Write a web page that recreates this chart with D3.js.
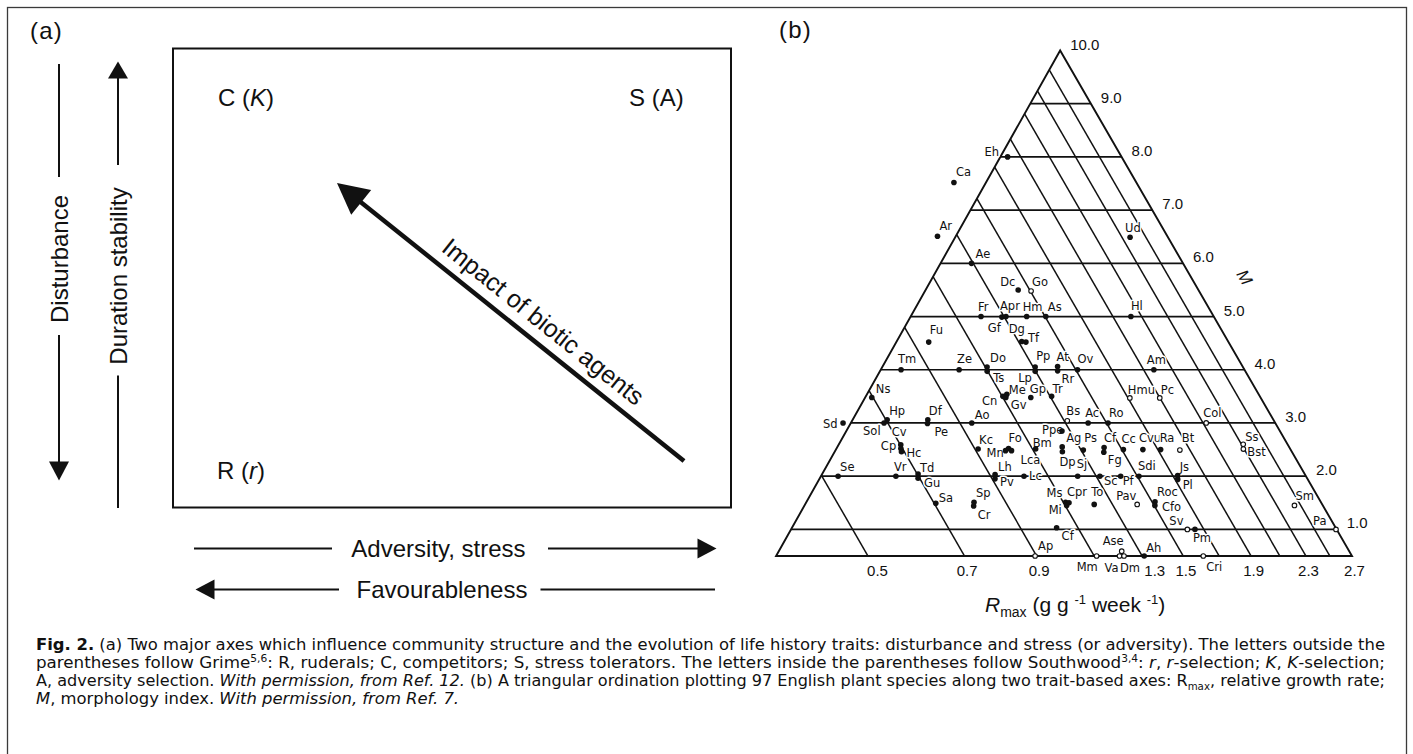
<!DOCTYPE html>
<html>
<head>
<meta charset="utf-8">
<script src="https://cdn.jsdelivr.net/npm/d3@7/dist/d3.min.js"></script>
<style>
  html, body { margin: 0; padding: 0; background: #ffffff; }
  svg { display: block; }
</style>
</head>
<body>
<svg id="fig" width="1413" height="754"></svg>
<script>
// ---------- panel (b): species codes, Rmax (g g-1 week-1) and morphology index M ----------
const codes = ["Eh","Ca","Ar","Ae","Ud","Dc","Go","Fr","Gf","Apr","Hm","As","Hl","Dg","Tf","Fu",
  "Tm","Ze","Do","Ts","Pp","Lp","At","Rr","Ov","Am","Hmu","Pc","Ns","Me","Cn","Gv","Gp","Tr",
  "Hp","Sol","Df","Pe","Ao","Sd","Bs","Ac","Ro","Col","Ppe","Cv","Cp","Hc","Kc","Fo","Mn","Lca",
  "Bm","Ag","Dp","Ps","Cf","Fg","Cc","Cvu","Ra","Bt","Ss","Bst","Se","Vr","Td","Gu","Lh","Pv",
  "Lc","Sj","Sc","Pf","Sdi","Js","Pl","Sa","Sp","Cr","Ms","Cpr","Mi","To","Pav","Roc","Cfo",
  "Sv","Pm","Sm","Pa","Cf","Ap","Mm","Ase","Va","Dm","Ah","Cri"];
const rmax = [1.815,1.430,1.212,1.292,2.366,1.441,1.504,1.200,1.289,1.309,1.407,1.504,2.023,1.315,1.333,0.950,
  0.816,0.999,1.107,1.098,1.309,1.298,1.417,1.405,1.509,1.969,1.711,1.899,0.697,1.123,1.103,1.112,1.213,1.307,
  0.703,0.691,0.810,0.803,0.938,0.599,1.314,1.407,1.508,2.123,1.264,0.701,0.696,0.693,0.910,1.013,0.998,1.019,
  1.112,1.225,1.214,1.310,1.416,1.401,1.508,1.614,1.717,1.834,2.314,2.293,0.529,0.647,0.702,0.696,0.917,0.909,
  1.011,1.219,1.317,1.416,1.509,1.729,1.716,0.704,0.806,0.799,1.109,1.121,1.106,1.220,1.417,1.516,1.504,
  1.605,1.648,2.446,2.694,1.021,0.895,1.109,1.222,1.201,1.220,1.309,1.608];
const mIndex = [8.00,7.52,6.51,6.00,6.49,5.50,5.48,5.00,4.99,5.00,5.00,5.00,5.00,4.53,4.52,4.52,
  4.00,4.00,4.05,3.97,4.05,3.97,4.06,3.98,4.00,4.00,3.47,3.47,3.48,3.54,3.50,3.48,3.48,3.50,
  3.06,3.00,3.06,2.99,3.00,3.00,3.04,3.00,3.00,3.00,2.85,2.59,2.52,2.46,2.51,2.52,2.48,2.48,
  2.51,2.55,2.46,2.49,2.54,2.45,2.50,2.50,2.50,2.49,2.60,2.51,2.00,2.00,2.04,1.96,2.03,1.95,
  2.00,2.00,2.00,2.00,2.00,2.01,1.94,1.49,1.51,1.44,1.51,1.50,1.45,1.47,1.47,1.52,1.45,
  1.00,1.00,1.45,1.00,1.03,0.50,0.50,0.59,0.50,0.50,0.50,0.50];
// species plotted with open symbols
const openCodes = ["Go","Hmu","Pc","Bs","Col","Bt","Ss","Bst","Pav","Sv","Sm","Pa","Ap","Mm","Ase","Va","Dm","Cri"];

// axis values
const rmaxTicks = [0.5, 0.7, 0.9, 1.3, 1.5, 1.9, 2.3, 2.7];
const rmaxGrid  = [0.5, 0.7, 0.9, 1.1, 1.3, 1.5, 1.7, 1.9, 2.1, 2.3, 2.5];
const mTicks    = [1, 2, 3, 4, 5, 6, 7, 8, 9, 10];

// ---------- panel (a): corner strategies ----------
const grime     = ["C", "S", "R"];
const southwood = ["K", "A", "r"];
const swItalic  = [true, false, true];

// ---------- layout (label placement, offsets in px from each dot) ----------
const labelShift = [[-23,-1],[2,-6],[2,-6],[4,-5],[-5,-5],[-18,-4],[1,-5],[-3,-6],[-14,15],[-6,-7],[-4,-6],[2,-6],[0,-7],[-13,-9],[2,0],[1,-8],
  [-3,-7],[-2,-7],[3,-5],[6,11],[1,-7],[-17,11],[-1,-6],[4,12],[0,-7],[-7,-6],[-2,-4],[1,-4],[4,-4],[2,0],[-21,9],[5,12],[-1,-4],[1,-3],
  [2,-5],[-21,12],[1,-5],[7,12],[3,-4],[-20,5],[-1,-6],[-3,-6],[1,-6],[-3,-6],[-20,3],[-9,-9],[-20,1],[5,5],[1,-5],[0,-7],[-19,6],[9,13],
  [-3,-2],[4,-5],[-3,14],[1,-8],[0,-5],[4,12],[-2,-7],[-4,-8],[-1,-8],[2,-8],[2,-3],[4,7],[2,-5],[-2,-5],[2,-2],[6,9],[3,-4],[5,7],
  [5,4],[-1,-8],[4,9],[2,9],[-1,-6],[2,-5],[5,10],[3,-1],[2,-5],[4,13],[-19,-5],[-2,-7],[-18,9],[-3,-8],[-21,-4],[2,-6],[7,6],
  [-18,-4],[-2,13],[1,-5],[-23,-4],[5,12],[3,-6],[-20,15],[-19,-6],[-15,16],[-4,16],[2,-4],[3,15]];
const tickNudge = {0.5: 7, 1.3: 10};

const INK = "#111111";
const SANS = "'Liberation Sans', Arial, Helvetica, sans-serif";
const LABEL_FONT = "'DejaVu Sans', Verdana, sans-serif";
const svg = d3.select("#fig");

// outer frame of the figure
svg.append("rect").attr("x", 7.5).attr("y", 7.5).attr("width", 1399).attr("height", 770)
  .attr("fill", "none").attr("stroke", "#3a3a3a").attr("stroke-width", 1.3);

// ---------- helpers ----------
function seg(g, x1, y1, x2, y2, w) {
  return g.append("line").attr("x1", x1).attr("y1", y1).attr("x2", x2).attr("y2", y2)
    .attr("stroke", INK).attr("stroke-width", w);
}
function arrow(g, x1, y1, x2, y2, len, half, w) {
  const dx = x2 - x1, dy = y2 - y1, L = Math.hypot(dx, dy), ux = dx / L, uy = dy / L;
  const bx = x2 - ux * len, by = y2 - uy * len;
  seg(g, x1, y1, bx + ux * 2, by + uy * 2, w);
  g.append("path")
    .attr("d", `M${x2},${y2}L${bx - uy * half},${by + ux * half}L${bx + uy * half},${by - ux * half}Z`)
    .attr("fill", INK);
}

// =================== panel (a) ===================
const A = svg.append("g").attr("font-family", SANS).attr("fill", INK);
A.append("text").attr("x", 30).attr("y", 39).attr("font-size", 24).attr("letter-spacing", 1.2).text("(a)");

const box = {x0: 173, y0: 48.5, x1: 731, y1: 507.5};
A.append("rect").attr("x", box.x0).attr("y", box.y0)
  .attr("width", box.x1 - box.x0).attr("height", box.y1 - box.y0)
  .attr("fill", "none").attr("stroke", INK).attr("stroke-width", 2);

const cornerPos = [[218, 106], [629, 106], [217, 479]];
grime.forEach((g, i) => {
  const t = A.append("text").attr("x", cornerPos[i][0]).attr("y", cornerPos[i][1]).attr("font-size", 24);
  t.append("tspan").text(g + " (");
  t.append("tspan").attr("font-style", swItalic[i] ? "italic" : "normal").text(southwood[i]);
  t.append("tspan").text(")");
});

// impact of biotic agents: long diagonal arrow towards C(K)
const tail = [684, 461], tip = [337, 183];
arrow(A, tail[0], tail[1], tip[0], tip[1], 31, 16, 4.5);
{
  const ang = Math.atan2(tail[1] - tip[1], tail[0] - tip[0]);
  const ux = Math.cos(ang), uy = Math.sin(ang);
  const L = Math.hypot(tail[0] - tip[0], tail[1] - tip[1]);
  const along = 0.557 * L, off = 12;
  const cx = tip[0] + ux * along + uy * off, cy = tip[1] + uy * along - ux * off;
  A.append("text").attr("transform", `translate(${cx},${cy}) rotate(${ang * 180 / Math.PI})`)
    .attr("text-anchor", "middle").attr("font-size", 25).text("Impact of biotic agents");
}

// disturbance (down) and duration stability (up)
seg(A, 59, 64, 59, 177, 2);
A.append("text").attr("transform", "translate(59,259) rotate(-90)").attr("text-anchor", "middle")
  .attr("dominant-baseline", "central").attr("font-size", 24).text("Disturbance");
arrow(A, 59, 335, 59, 480.5, 19, 10, 2);

arrow(A, 118, 165, 118, 61.5, 17, 10, 2);
A.append("text").attr("transform", "translate(118,276) rotate(-90)").attr("text-anchor", "middle")
  .attr("dominant-baseline", "central").attr("font-size", 24).text("Duration stability");
seg(A, 118, 375.5, 118, 508, 2);

// adversity (right) and favourableness (left)
seg(A, 194, 548.5, 332, 548.5, 2);
A.append("text").attr("x", 438.5).attr("y", 548.5).attr("text-anchor", "middle")
  .attr("dominant-baseline", "central").attr("font-size", 24).text("Adversity, stress");
arrow(A, 548, 548.5, 716.5, 548.5, 19, 10, 2);

arrow(A, 339, 589.5, 195.5, 589.5, 19, 10, 2);
A.append("text").attr("x", 442).attr("y", 589.5).attr("text-anchor", "middle")
  .attr("dominant-baseline", "central").attr("font-size", 24).text("Favourableness");
seg(A, 540.5, 589.5, 715, 589.5, 2);

// =================== panel (b) ===================
const B = svg.append("g");
B.append("text").attr("x", 779).attr("y", 38).attr("font-family", SANS).attr("font-size", 24)
  .attr("letter-spacing", 1.2).attr("fill", INK).text("(b)");

// Rmax runs along the base on a log scale; M is the height
const rScale = d3.scaleLog().domain([0.5, 2.7]).range([868, 1352]);
const mScale = d3.scaleLinear().domain([0.5, 10]).range([556, 50.5]);
const SLANT = Math.tan(Math.PI / 6);     // iso-Rmax lines run parallel to the right side
const LEFT_R = 0.363;                    // Rmax at the lower-left corner of the frame
const yBase = mScale(0.5);
const pos = (r, m) => [rScale(r) - (yBase - mScale(m)) * SLANT, mScale(m)];
const apex = pos(2.7, 10);
const corner = [rScale(LEFT_R), yBase];
const rightCorner = [rScale(2.7), yBase];
const leftSlope = (apex[0] - corner[0]) / (yBase - apex[1]);
const leftX = y => corner[0] + (yBase - y) * leftSlope;

const grid = B.append("g").attr("stroke", INK).attr("fill", "none");
// horizontal M levels
mTicks.filter(m => m < 10).forEach(m => {
  const y = mScale(m);
  grid.append("line").attr("x1", leftX(y)).attr("y1", y).attr("x2", pos(2.7, m)[0]).attr("y2", y)
    .attr("stroke-width", 1.7);
});
// iso-Rmax diagonals from the base up to the left side
rmaxGrid.forEach(r => {
  const x0 = rScale(r);
  const d = (x0 - corner[0]) / (SLANT + leftSlope);
  grid.append("line").attr("x1", x0).attr("y1", yBase).attr("x2", x0 - d * SLANT).attr("y2", yBase - d)
    .attr("stroke-width", 1.5);
});
grid.append("path").attr("d", `M${corner}L${apex}L${rightCorner}Z`).attr("stroke-width", 1.9)
  .attr("stroke-linejoin", "miter");

// Rmax axis labels under the base
const xAxis = d3.axisBottom(rScale).tickValues(rmaxTicks).tickSize(0).tickPadding(9)
  .tickFormat(d3.format(".1f"));
const axG = B.append("g").attr("transform", `translate(0,${yBase})`).call(xAxis);
axG.select(".domain").remove();
axG.selectAll("text").attr("font-family", SANS).attr("font-size", 15).attr("fill", INK)
  .attr("dx", d => 2 + (tickNudge[d] || 0));

// M values along the right side
B.append("g").selectAll("text").data(mTicks).join("text")
  .attr("x", m => pos(2.7, m)[0] + 10).attr("y", m => mScale(m) - 1)
  .attr("font-family", SANS).attr("font-size", 15).attr("fill", INK)
  .text(m => d3.format(".1f")(m));
B.append("text").attr("transform", "translate(1236,274) rotate(60)")
  .attr("font-family", SANS).attr("font-style", "italic").attr("font-size", 17).attr("fill", INK).text("M");

// axis title
{
  const t = B.append("text").attr("x", 985).attr("y", 612).attr("font-family", SANS)
    .attr("font-size", 21).attr("fill", INK);
  t.append("tspan").attr("font-style", "italic").text("R");
  t.append("tspan").attr("font-size", 14).attr("dy", 5).text("max");
  t.append("tspan").attr("dy", -5).text(" (g g ");
  t.append("tspan").attr("font-size", 13).attr("dy", -8).text("-1");
  t.append("tspan").attr("dy", 8).text(" week ");
  t.append("tspan").attr("font-size", 13).attr("dy", -8).text("-1");
  t.append("tspan").attr("dy", 8).text(")");
}

// species points and codes (white halo breaks the grid lines around each code)
const species = codes.map((c, i) => ({code: c, r: rmax[i], m: mIndex[i], shift: labelShift[i],
  open: openCodes.includes(c)}));
const pts = B.append("g");
species.forEach(s => {
  const [x, y] = pos(s.r, s.m);
  pts.append("text").attr("x", x + s.shift[0]).attr("y", y + s.shift[1])
    .attr("font-family", LABEL_FONT).attr("font-size", 11.5).attr("fill", INK)
    .attr("stroke", "#fff").attr("stroke-width", 3).attr("stroke-linejoin", "round")
    .attr("paint-order", "stroke").text(s.code);
});
species.forEach(s => {
  const [x, y] = pos(s.r, s.m);
  pts.append("circle").attr("cx", x).attr("cy", y).attr("r", s.open ? 2.3 : 2.8)
    .attr("fill", s.open ? "#fff" : INK).attr("stroke", INK).attr("stroke-width", s.open ? 1.1 : 0);
});

// =================== caption ===================
const capLines = [
  [["Fig. 2.", "b"], [" (a) Two major axes which influence community structure and the evolution of life history traits: disturbance and stress (or adversity). The letters outside the"]],
  [["parentheses follow Grime"], ["5,6", "sup"], [": R, ruderals; C, competitors; S, stress tolerators. The letters inside the parentheses follow Southwood"], ["3,4", "sup"], [": "], ["r", "i"], [", "], ["r", "i"], ["-selection; "], ["K", "i"], [", "], ["K", "i"], ["-selection;"]],
  [["A, adversity selection. "], ["With permission, from Ref. 12.", "i"], [" (b) A triangular ordination plotting 97 English plant species along two trait-based axes: R"], ["max", "sub"], [", relative growth rate;"]],
  [["M", "i"], [", morphology index. "], ["With permission, from Ref. 7.", "i"]]
];
const capX = 36, capRight = 1385, capY0 = 650, capDY = 18;
const cap = svg.append("g").attr("font-family", "'Liberation Sans Narrow','DejaVu Sans Condensed','Liberation Sans',sans-serif")
  .attr("font-size", 16.5).attr("fill", INK);
let squeeze = 1;
capLines.forEach((line, li) => {
  const t = cap.append("text").attr("x", capX).attr("y", capY0 + li * capDY);
  let shift = 0;
  line.forEach(([txt, st]) => {
    const sp = t.append("tspan").text(txt);
    if (st === "b") sp.attr("font-weight", "bold");
    if (st === "i") sp.attr("font-style", "italic");
    if (st === "sup") { sp.attr("font-size", 10.5).attr("dy", -6 - shift); shift = -6; return; }
    if (st === "sub") { sp.attr("font-size", 10.5).attr("dy", 4 - shift); shift = 4; return; }
    if (shift) { sp.attr("dy", -shift); shift = 0; }
  });
  const natural = t.node().getComputedTextLength();
  if (li < 3) {
    t.attr("textLength", capRight - capX).attr("lengthAdjust", "spacingAndGlyphs");
    if (li === 0) squeeze = (capRight - capX) / natural;
  } else {
    t.attr("textLength", natural * squeeze).attr("lengthAdjust", "spacingAndGlyphs");
  }
});
</script>
</body>
</html>
